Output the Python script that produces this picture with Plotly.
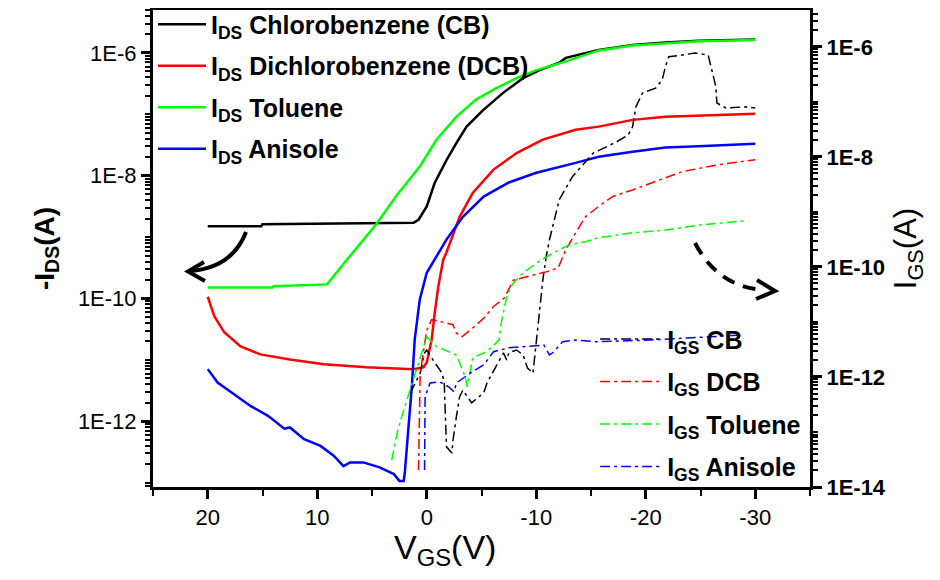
import plotly.graph_objects as go

# ---------------- data ----------------
# Drain current -I_DS (A) vs V_GS (V), left axis
v_ids_cb = [20, 15.1, 15, 1.2, 0.75, 0, -0.73, -1.82, -2.73, -3.64, -5.15, -6.97, -8.8, -10.3, -12.1, -12.7,
            -15.7, -18.8, -21.8, -24.8, -30]
ids_cb = [1.51e-9, 1.51e-9, 1.62e-9, 1.72e-9, 1.92e-9, 3.16e-9, 7.69e-9, 1.82e-8, 3.47e-8, 6.31e-8, 1.175e-7,
          2.24e-7, 3.89e-7, 5.25e-7, 6.92e-7, 8.32e-7, 1.12e-6, 1.35e-6, 1.48e-6, 1.58e-6, 1.66e-6]

v_ids_dcb = [20, 19.4, 18.5, 17, 15.2, 12.5, 9.4, 5.5, 1.2, 0.3, 0, -0.45, -0.73, -1.06, -1.5, -1.8, -3, -4.2,
             -6.1, -8.2, -10.6, -13.6, -15.7, -18.8, -21.8, -24.8, -30]
ids_dcb = [1.07e-10, 5.13e-11, 2.82e-11, 1.66e-11, 1.23e-11, 1.02e-11, 8.51e-12, 7.59e-12, 7.08e-12, 7.59e-12,
           9.12e-12, 2.14e-11, 5.89e-11, 1.585e-10, 4.27e-10, 5.62e-10, 2.14e-9, 5.25e-9, 1.26e-8, 2.34e-8,
           3.89e-8, 5.62e-8, 6.31e-8, 8.13e-8, 9.12e-8, 9.55e-8, 1.02e-7]

v_ids_tol = [20, 14.1, 14, 9.1, 7.3, 4.7, 2.7, 0.6, -0.9, -2.7, -4.5, -6.4, -8.2, -10, -12.5, -15.7, -18.8,
             -21.8, -24.8, -30]
ids_tol = [1.51e-10, 1.51e-10, 1.585e-10, 1.70e-10, 4.27e-10, 1.55e-9, 4.90e-9, 1.445e-8, 3.89e-8, 9.12e-8,
           1.74e-7, 2.69e-7, 3.89e-7, 5.25e-7, 7.08e-7, 1.10e-6, 1.32e-6, 1.45e-6, 1.55e-6, 1.62e-6]

v_ids_ani = [20, 19.1, 17.6, 16.1, 14.5, 13, 12.5, 11.2, 9.7, 8.5, 7.6, 7.0, 5.8, 4.3, 3.0, 2.5, 2.1, 2.0,
             1.66, 1.36, 1.1, 0.64, 0, -0.9, -1.8, -3.3, -5.2, -7.5, -10, -13.6, -15.7, -18.8, -21.8, -24.8, -30]
ids_ani = [7.08e-12, 4.27e-12, 2.75e-12, 1.78e-12, 1.23e-12, 7.59e-13, 7.94e-13, 5.13e-13, 3.98e-13, 2.75e-13,
           1.86e-13, 2.14e-13, 2.14e-13, 1.78e-13, 1.38e-13, 1.07e-13, 1.07e-13, 1.48e-13, 8.32e-13, 3.72e-12,
           2.14e-11, 9.55e-11, 2.63e-10, 4.79e-10, 9.12e-10, 2.14e-9, 4.57e-9, 7.76e-9, 1.12e-8, 1.62e-8,
           2.04e-8, 2.45e-8, 2.88e-8, 3.02e-8, 3.31e-8]

# Gate leakage I_GS (A) vs V_GS (V), right axis
v_igs_cb = [1.5, 0.6, 0.2, 0, -0.7, -1.4, -1.6, -1.65, -1.7, -1.8, -2.3, -2.4, -2.7, -3.0, -3.3, -4.1, -5.2,
            -5.5, -7.0, -7.3, -7.5, -8.2, -8.8, -9.2, -9.7, -9.8, -10, -10.3, -10.6, -10.9, -11.2, -12.1, -13.3,
            -15.2, -17.3, -18.4, -18.8, -19.1, -19.7, -20.9, -21.5, -21.8, -22.1, -23.3, -24.5, -25.7, -26,
            -26.4, -26.5, -27.3, -29.1, -30]
igs_cb = [5.13e-13, 1.17e-12, 2.75e-12, 3.09e-12, 1.86e-12, 1.17e-12, 7.76e-13, 3.39e-13, 1.23e-13, 5.37e-14,
          4.17e-14, 7.08e-14, 1.86e-13, 4.37e-13, 5.75e-13, 3.39e-13, 5.13e-13, 7.76e-13, 2.75e-12, 2.04e-12,
          2.75e-12, 3.09e-12, 2.51e-12, 1.45e-12, 1.17e-12, 1.78e-12, 5.37e-12, 1.86e-11, 5.75e-11, 1.51e-10,
          3.09e-10, 1.66e-9, 4.37e-9, 1.17e-8, 1.86e-8, 2.51e-8, 3.55e-8, 8.13e-8, 1.45e-7, 1.78e-7, 2.51e-7,
          4.37e-7, 6.61e-7, 7.08e-7, 7.76e-7, 7.08e-7, 3.80e-7, 1.91e-7, 9.55e-8, 7.76e-8, 8.13e-8, 7.76e-8]

v_igs_dcb = [0.75, 0.7, 0.6, 0, -0.45, -1.2, -2.4, -2.7, -3.2, -4.2, -5.2, -6.1, -7.1, -7.9, -9.7, -10.9, -12,
             -12.7, -13.6, -14.5, -15.7, -17, -18.8, -20.6, -23.3, -26.4, -30]
igs_dcb = [2.04e-14, 1.66e-13, 1.17e-12, 7.08e-12, 1.10e-11, 1.02e-11, 8.91e-12, 6.31e-12, 5.37e-12, 7.76e-12,
           1.17e-11, 1.91e-11, 2.75e-11, 5.75e-11, 7.08e-11, 8.13e-11, 9.55e-11, 2.04e-10, 4.17e-10, 8.13e-10,
           1.26e-9, 1.91e-9, 2.51e-9, 3.39e-9, 5.37e-9, 7.08e-9, 8.91e-9]

v_igs_tol = [3.2, 2.7, 2.3, 0.6, 0.3, 0, -0.9, -2.7, -3.5, -3.7, -4.2, -5.5, -6.6, -6.8, -7.3, -7.9, -8.8, -10,
             -11.5, -13, -14.5, -15.7, -18.8, -21.8, -24.8, -29.1]
igs_tol = [3.09e-14, 9.55e-14, 1.86e-13, 2.29e-12, 3.55e-12, 5.37e-12, 3.55e-12, 2.51e-12, 1.02e-12, 6.61e-13,
           2.24e-12, 2.88e-12, 4.68e-12, 9.55e-12, 2.88e-11, 5.13e-11, 7.76e-11, 1.17e-10, 1.78e-10, 2.51e-10,
           2.88e-10, 3.39e-10, 4.17e-10, 4.68e-10, 5.75e-10, 6.92e-10]

v_igs_ani = [0.2, 0.15, -0.3, -1.2, -2.0, -2.5, -2.7, -3.5, -4.2, -5.2, -6.1, -7.5, -8.8, -10.7, -11.2, -11.5,
             -12.4, -13.6, -15.5, -20.3, -28.6]
igs_ani = [2.04e-14, 4.37e-13, 7.76e-13, 8.13e-13, 6.61e-13, 5.37e-13, 7.76e-13, 1.02e-12, 1.26e-12, 1.66e-12,
           2.88e-12, 3.39e-12, 3.55e-12, 3.80e-12, 2.51e-12, 2.75e-12, 4.37e-12, 4.68e-12, 4.37e-12, 4.68e-12,
           5.75e-12]

ids_names = ["I<sub>DS</sub> Chlorobenzene (CB)", "I<sub>DS</sub> Dichlorobenzene (DCB)",
             "I<sub>DS</sub> Toluene", "I<sub>DS</sub> Anisole"]
igs_names = ["I<sub>GS</sub> CB", "I<sub>GS</sub> DCB", "I<sub>GS</sub> Toluene", "I<sub>GS</sub> Anisole"]
colors = ["#000000", "#ff0000", "#00ff00", "#0000ff"]

x_tick_vals = [20, 10, 0, -10, -20, -30]
x_tick_labels = ["20", "10", "0", "-10", "-20", "-30"]
x_minor_vals = [25, 15, 5, -5, -15, -25, -35]
x_title = "V<sub>GS</sub>(V)"

yl_tick_vals = [1e-6, 1e-8, 1e-10, 1e-12]
yl_tick_labels = ["1E-6", "1E-8", "1E-10", "1E-12"]
yr_tick_vals = [1e-6, 1e-8, 1e-10, 1e-12, 1e-14]
yr_tick_labels = ["1E-6", "1E-8", "1E-10", "1E-12", "1E-14"]
y_minor_vals = [m * 10.0 ** e for e in range(-15, -4) for m in range(1, 10)
                if not (m == 1 and e % 2 == 0)]

FONT = "Liberation Sans, Arial, sans-serif"

# ---------------- figure ----------------
fig = go.Figure()

ids_x = [v_ids_cb, v_ids_dcb, v_ids_tol, v_ids_ani]
ids_y = [ids_cb, ids_dcb, ids_tol, ids_ani]
igs_x = [v_igs_cb, v_igs_dcb, v_igs_tol, v_igs_ani]
igs_y = [igs_cb, igs_dcb, igs_tol, igs_ani]

for name, xs, ys, c in zip(ids_names, ids_x, ids_y, colors):
    fig.add_trace(go.Scatter(x=xs, y=ys, mode="lines", name=name, line=dict(color=c, width=2.5),
                             yaxis="y", legend="legend", legendgroup=name))

for name, xs, ys, c in zip(igs_names, igs_x, igs_y, colors):
    fig.add_trace(go.Scatter(x=xs, y=ys, mode="lines", name=name,
                             line=dict(color=c, width=1.5, dash="10px,4px,3px,4px"),
                             yaxis="y2", legend="legend2", legendgroup=name))

axis_common = dict(showgrid=False, zeroline=False, showline=True, linewidth=3, linecolor="black",
                   ticks="outside", tickwidth=2.5, tickcolor="black", ticklen=9, automargin=False)

# The page body adds an 8 px offset; margins compensate so the plot sits where the reference has it.
fig.update_layout(
    width=940, height=580,
    margin=dict(l=145, r=138, t=2, b=101, autoexpand=False),
    plot_bgcolor="white", paper_bgcolor="white",
    font=dict(family=FONT, color="black"),
    xaxis=dict(range=[25, -35], tickmode="array", tickvals=x_tick_vals, ticktext=x_tick_labels,
               mirror=True, tickfont=dict(size=22),
               minor=dict(tickmode="array", tickvals=x_minor_vals, ticks="outside", ticklen=6,
                          tickwidth=2, tickcolor="black"),
               **axis_common),
    yaxis=dict(type="log", range=[-13.07, -5.3], tickmode="array", tickvals=yl_tick_vals,
               ticktext=yl_tick_labels, tickfont=dict(size=22),
               minor=dict(tickmode="array", tickvals=y_minor_vals, ticks="outside", ticklen=5,
                          tickwidth=1.5, tickcolor="black"),
               title=dict(text="-I<sub>DS</sub>(A)", font=dict(size=28, weight="bold"), standoff=16),
               **axis_common),
    yaxis2=dict(type="log", range=[-14, -5.33], overlaying="y", side="right", tickmode="array",
                tickvals=yr_tick_vals, ticktext=yr_tick_labels, tickfont=dict(size=22, weight="bold"),
                minor=dict(tickmode="array", tickvals=y_minor_vals, ticks="outside", ticklen=5,
                           tickwidth=1.5, tickcolor="black"),
                title=dict(text="I<sub>GS</sub>(A)", font=dict(size=31), standoff=10),
                **axis_common),
    legend=dict(x=0.0, y=1.018, xanchor="left", yanchor="top", bgcolor="rgba(0,0,0,0)",
                font=dict(size=25, weight="bold", family=FONT), itemwidth=48,
                traceorder="grouped", tracegroupgap=6),
    legend2=dict(x=0.673, y=0.358, xanchor="left", yanchor="top", bgcolor="rgba(0,0,0,0)",
                 font=dict(size=25, weight="bold", family=FONT), itemwidth=62,
                 traceorder="grouped", tracegroupgap=7),
)

# x-axis title as an annotation so it can sit left of centre as in the reference
fig.add_annotation(text=x_title, xref="paper", yref="paper", x=0.444, y=-0.132,
                   xanchor="center", yanchor="middle", showarrow=False, font=dict(size=34))

# ---------------- arrows (paper coordinates) ----------------
def px(xp, yp):
    return (xp - 153) / 657.0, (487 - yp) / 477.0

def path_from(points, curve=False):
    pts = [px(*p) for p in points]
    if curve:
        (x0, y0), (cx, cy), (x1, y1) = pts
        return f"M{x0:.4f},{y0:.4f} Q{cx:.4f},{cy:.4f} {x1:.4f},{y1:.4f}"
    return "M" + " L".join(f"{x:.4f},{y:.4f}" for x, y in pts)

# solid curved arrow pointing to the left axis
fig.add_shape(type="path", xref="paper", yref="paper",
              path=path_from([(246, 232), (232, 268), (190, 271)], curve=True),
              line=dict(color="black", width=4))
fig.add_shape(type="path", xref="paper", yref="paper",
              path=path_from([(204, 262), (188, 271.5), (205, 281)]),
              line=dict(color="black", width=4))
# dashed curved arrow pointing to the right axis
fig.add_shape(type="path", xref="paper", yref="paper",
              path=path_from([(695, 243), (718, 287), (764, 290)], curve=True),
              line=dict(color="black", width=4, dash="13px,9px"))
fig.add_shape(type="path", xref="paper", yref="paper",
              path=path_from([(757, 280), (775, 291), (756, 299)]),
              line=dict(color="black", width=4))

fig.write_html("out.html")
